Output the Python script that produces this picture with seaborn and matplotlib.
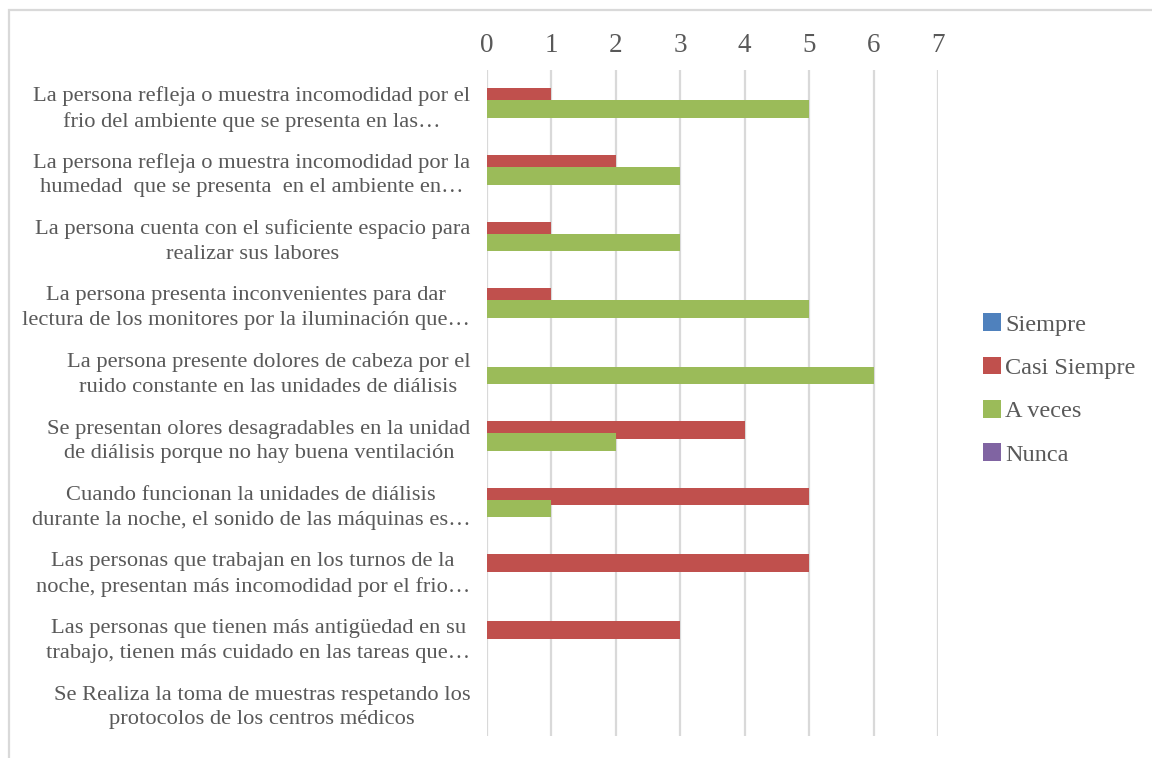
import matplotlib
matplotlib.use("Agg")
import matplotlib.pyplot as plt
from matplotlib.patches import Patch, Rectangle
import pandas as pd
import seaborn as sns

categories = [
    "La persona refleja o muestra incomodidad por el\nfrio del ambiente que se presenta en las…",
    "La persona refleja o muestra incomodidad por la\nhumedad  que se presenta  en el ambiente en…",
    "La persona cuenta con el suficiente espacio para\nrealizar sus labores",
    "La persona presenta inconvenientes para dar\nlectura de los monitores por la iluminación que…",
    "La persona presente dolores de cabeza por el\nruido constante en las unidades de diálisis",
    "Se presentan olores desagradables en la unidad\nde diálisis porque no hay buena ventilación",
    "Cuando funcionan la unidades de diálisis\ndurante la noche, el sonido de las máquinas es…",
    "Las personas que trabajan en los turnos de la\nnoche, presentan más incomodidad por el frio…",
    "Las personas que tienen más antigüedad en su\ntrabajo, tienen más cuidado en las tareas que…",
    "Se Realiza la toma de muestras respetando los\nprotocolos de los centros médicos",
]
series = ["Siempre", "Casi Siempre", "A veces", "Nunca"]
siempre = [0, 0, 0, 0, 0, 0, 0, 0, 0, 0]
casi_siempre = [1, 2, 1, 1, 0, 4, 5, 5, 3, 0]
a_veces = [5, 3, 3, 5, 6, 2, 1, 0, 0, 0]
nunca = [0, 0, 0, 0, 0, 0, 0, 0, 0, 0]
x_ticks = [0, 1, 2, 3, 4, 5, 6, 7]

colors = ["#4F81BD", "#C0504D", "#9BBB59", "#8064A2"]
text_color = "#595959"
grid_color = "#D9D9D9"

rows = []
for name, vals in zip(series, [siempre, casi_siempre, a_veces, nunca]):
    for cat, v in zip(categories, vals):
        rows.append({"categoria": cat, "serie": name, "valor": v})
df = pd.DataFrame(rows)

sns.set_style("white")
plt.rcParams["font.family"] = ["Liberation Serif", "DejaVu Serif"]

fig = plt.figure(figsize=(11.52, 7.58), dpi=100)
ax = fig.add_axes([487 / 1152, 1 - 735.5 / 758, (938 - 487) / 1152, (735.5 - 70) / 758])

sns.barplot(
    data=df, y="categoria", x="valor", hue="serie", orient="h",
    order=categories, hue_order=series, palette=colors, saturation=1,
    width=0.72, linewidth=0, errorbar=None, legend=False, ax=ax,
)

# widen bars so neighbouring series overlap slightly
bar_h = 0.266
for p in ax.patches:
    c = p.get_y() + p.get_height() / 2
    p.set_height(bar_h)
    p.set_y(c - bar_h / 2)

ax.set_xlim(0, 7)
ax.set_ylim(len(categories) - 0.5, -0.5)
ax.set_xticks(x_ticks)
ax.xaxis.tick_top()
ax.tick_params(axis="x", length=0, pad=9, labelsize=19.5, labelcolor=text_color)
ax.tick_params(axis="y", length=0, pad=12, labelsize=16.2, labelcolor=text_color)
for lbl in ax.get_yticklabels():
    lbl.set_multialignment("center")
    lbl.set_linespacing(1.4)
ax.set_xlabel("")
ax.set_ylabel("")
ax.grid(axis="x", color=grid_color, linewidth=1.6)
ax.set_axisbelow(True)
for s in ax.spines.values():
    s.set_visible(False)

handles = [Patch(facecolor=c, edgecolor="none") for c in colors]
leg = fig.legend(
    handles, series, loc="center left", bbox_to_anchor=(983 / 1152, 1 - 389.5 / 758),
    frameon=False, fontsize=17.5, handlelength=0.75, handleheight=0.75,
    handletextpad=0.17, labelspacing=0.86, borderaxespad=0, borderpad=0,
)
for t in leg.get_texts():
    t.set_color(text_color)

# chart border
fig.patches.append(Rectangle((9 / 1152, -0.05), 1.2, 1 - 10 / 758 + 0.05,
                             transform=fig.transFigure, fill=False,
                             edgecolor=grid_color, linewidth=1.6))

fig.savefig("out.png", dpi=100)
